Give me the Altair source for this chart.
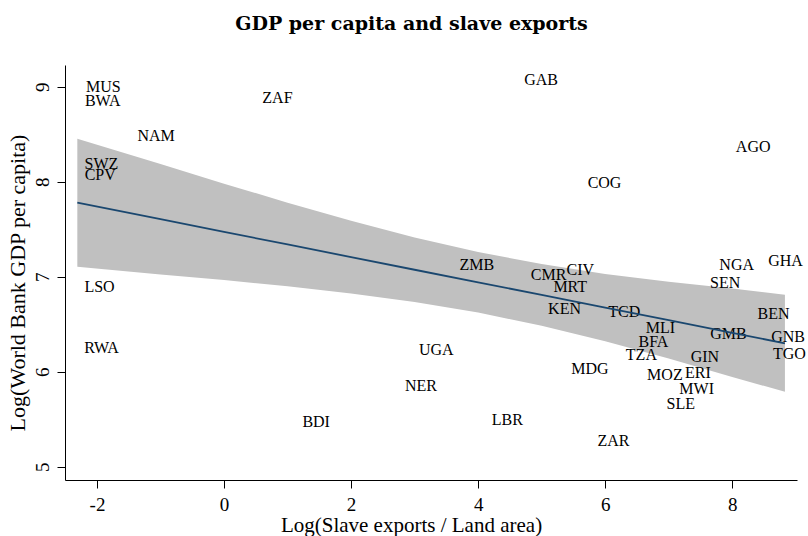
import altair as alt
import pandas as pd

# Country labels (placed at label centres)
countries = ["MUS", "BWA", "ZAF", "NAM", "SWZ", "CPV", "GAB", "AGO", "COG", "ZMB",
             "GHA", "NGA", "CIV", "CMR", "MRT", "KEN", "TCD", "MLI", "BFA", "TZA",
             "UGA", "MDG", "NER", "LBR", "ZAR", "MOZ", "ERI", "GIN", "MWI", "SLE",
             "SEN", "BEN", "GMB", "GNB", "TGO", "LSO", "RWA", "BDI"]
slave_exports = [-1.90, -1.91, 0.84, -1.07, -1.93, -1.95, 4.99, 8.33, 5.99, 3.98,
                 8.84, 8.07, 5.61, 5.11, 5.45, 5.36, 6.30, 6.87, 6.76, 6.57,
                 3.34, 5.76, 3.10, 4.46, 6.13, 6.94, 7.46, 7.57, 7.44, 7.19,
                 7.89, 8.65, 7.94, 8.88, 8.90, -1.96, -1.93, 1.45]
gdp = [9.00, 8.85, 8.88, 8.48, 8.19, 8.07, 9.07, 8.36, 7.99, 7.12,
       7.16, 7.12, 7.07, 7.02, 6.89, 6.66, 6.63, 6.46, 6.31, 6.18,
       6.23, 6.03, 5.85, 5.49, 5.27, 5.96, 5.99, 6.15, 5.82, 5.66,
       6.93, 6.61, 6.40, 6.36, 6.19, 6.89, 6.25, 5.47]

# Fitted line and confidence band
fit_x = [-2.31, -1, 0, 1, 2, 3, 4, 5, 6, 7, 8, 8.83]
fit_y = [7.779, 7.605, 7.472, 7.339, 7.206, 7.073, 6.941, 6.808, 6.675, 6.542, 6.409, 6.299]
ci_upper = [8.453, 8.187, 7.979, 7.779, 7.588, 7.413, 7.260, 7.133, 7.029, 6.946, 6.875, 6.809]
ci_lower = [7.105, 7.023, 6.965, 6.899, 6.824, 6.733, 6.622, 6.483, 6.321, 6.138, 5.943, 5.789]

x_ticks = [-2, 0, 2, 4, 6, 8]
y_ticks = [5, 6, 7, 8, 9]

pts = pd.DataFrame({"country": countries, "x": slave_exports, "y": gdp})
fit = pd.DataFrame({"x": fit_x, "fit": fit_y, "lo": ci_lower, "hi": ci_upper})

SERIF = "Liberation Serif"

xscale = alt.Scale(domain=[-2.504, 9.02], nice=False, zero=False)
yscale = alt.Scale(domain=[4.86, 9.228], nice=False, zero=False)

xaxis = alt.Axis(
    title="Log(Slave exports / Land area)", values=x_ticks, labelExpr="'' + datum.value",
    grid=False,
    domainColor="black", domainWidth=1, tickColor="black", tickWidth=1, tickSize=8,
    labelFont=SERIF, labelFontSize=19, labelColor="black", labelBaseline="alphabetic",
    labelPadding=22, labelFlush=False,
    titleFont=SERIF, titleFontSize=21, titleFontWeight="normal", titleColor="black",
    titleX=346, titleY=51.5, titleAlign="center", titleBaseline="alphabetic",
)
yaxis = alt.Axis(
    title="Log(World Bank GDP per capita)", values=y_ticks, labelExpr="'' + datum.value",
    grid=False,
    domainColor="black", domainWidth=1, tickColor="black", tickWidth=1, tickSize=8,
    labelFont=SERIF, labelFontSize=19, labelColor="black", labelAngle=270,
    labelAlign="center", labelBaseline="alphabetic", labelPadding=9, labelFlush=False,
    titleFont=SERIF, titleFontSize=22, titleFontWeight="normal", titleColor="black",
    titleX=-41, titleY=217.5, titleAngle=270, titleAlign="center", titleBaseline="alphabetic",
)

band = alt.Chart(fit).mark_area(color="#c0c0c0", opacity=1).encode(
    x=alt.X("x:Q", scale=xscale, axis=xaxis),
    y=alt.Y("lo:Q", scale=yscale, axis=yaxis),
    y2="hi:Q",
)

labels = alt.Chart(pts).mark_text(
    font=SERIF, fontSize=16, color="black", align="center", baseline="middle"
).encode(
    x=alt.X("x:Q", scale=xscale),
    y=alt.Y("y:Q", scale=yscale),
    text="country:N",
)

line = alt.Chart(fit).mark_line(color="#1a476f", strokeWidth=1.8).encode(
    x=alt.X("x:Q", scale=xscale),
    y=alt.Y("fit:Q", scale=yscale),
)

chart = alt.layer(band, labels, line).properties(
    width=732,
    height=415,
    autosize=alt.AutoSizeParams(type="none"),
    padding={"left": 65, "top": 65, "right": 11, "bottom": 56},
    background="white",
    title=alt.TitleParams(
        "GDP per capita and slave exports", font="DejaVu Serif", fontSize=19,
        fontWeight="bold", color="black", anchor="middle", frame="group",
        dx=-19.5, offset=31,
    ),
).configure_view(stroke="transparent")

chart.save("out.html", embed_options={"renderer": "svg", "actions": False})
